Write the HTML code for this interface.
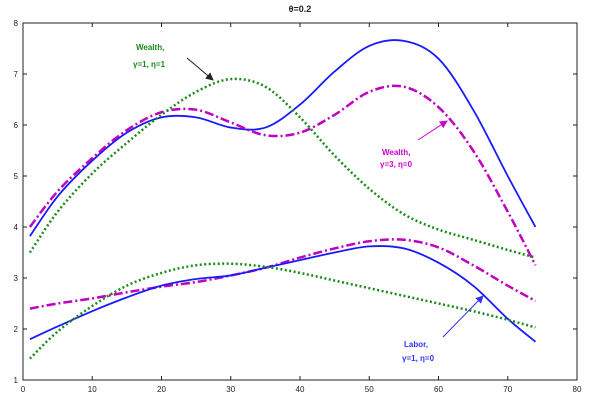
<!DOCTYPE html>
<html><head><meta charset="utf-8"><style>
body{margin:0;background:#fff}
svg{display:block;font-family:"Liberation Sans",sans-serif}
</style></head><body>
<svg id="c" width="600" height="405">
<defs>
<marker id="ab" markerWidth="8" markerHeight="8" refX="7" refY="4" orient="auto"><path d="M0,0L8,4L0,8z" fill="#222"/></marker>
<marker id="am" markerWidth="8" markerHeight="8" refX="7" refY="4" orient="auto"><path d="M0,0L8,4L0,8z" fill="#c0c"/></marker>
<marker id="al" markerWidth="8" markerHeight="8" refX="7" refY="4" orient="auto"><path d="M0,0L8,4L0,8z" fill="#33f"/></marker>
</defs>
<text x="300" y="12" font-size="9" font-weight="bold" text-anchor="middle" fill="#222">θ=0.2</text>
<g id="axes"></g><g id="series"></g>
<g>
<text x="136" y="50" font-size="8" font-weight="bold" fill="#1a8a1a">Wealth,</text>
<text x="133" y="67" font-size="8" font-weight="bold" fill="#1a8a1a">γ=1, η=1</text>
<line x1="187" y1="58" x2="213" y2="80" stroke="#222" stroke-width="1" marker-end="url(#ab)"/>
<text x="382" y="155" font-size="8" font-weight="bold" fill="#c0c">Wealth,</text>
<text x="380" y="167" font-size="8" font-weight="bold" fill="#c0c">γ=3, η=0</text>
<line x1="418" y1="140" x2="447" y2="121" stroke="#c0c" stroke-width="1" marker-end="url(#am)"/>
<text x="404" y="347" font-size="8" font-weight="bold" fill="#33f">Labor,</text>
<text x="402" y="361" font-size="8" font-weight="bold" fill="#33f">γ=1, η=0</text>
<line x1="443" y1="337" x2="483" y2="296" stroke="#33f" stroke-width="1" marker-end="url(#al)"/>
</g>
</svg>
<script>
const xs=[1,5,10,15,20,25,30,35,40,45,50,55,60,65,70,74];
const blueWealth=[3.82,4.6,5.3,5.85,6.15,6.15,5.95,5.95,6.4,7.05,7.55,7.65,7.3,6.3,5.0,4.0];
const magWealth=[4.0,4.7,5.35,5.9,6.25,6.3,6.05,5.8,5.85,6.2,6.65,6.75,6.35,5.5,4.3,3.25];
const greenWealth=[3.5,4.3,5.05,5.65,6.2,6.65,6.9,6.75,6.15,5.4,4.75,4.25,3.95,3.75,3.55,3.4];
const magLabor=[2.4,2.5,2.6,2.72,2.83,2.92,3.05,3.2,3.4,3.58,3.72,3.75,3.6,3.25,2.85,2.55];
const blueLabor=[1.8,2.05,2.35,2.62,2.85,2.98,3.05,3.2,3.35,3.5,3.62,3.58,3.3,2.85,2.2,1.75];
const greenLabor=[1.42,1.95,2.45,2.85,3.1,3.25,3.28,3.22,3.1,2.95,2.8,2.65,2.5,2.35,2.18,2.03];
const xTicks=[0,10,20,30,40,50,60,70,80];
const yTicks=[1,2,3,4,5,6,7,8];
const L=23,R=577,T=23,B=380;
const sx=v=>L+(v-0)/80*(R-L), sy=v=>B-(v-1)/7*(B-T);
const NS="http://www.w3.org/2000/svg";
const ax=document.getElementById('axes'), sg=document.getElementById('series');
function mk(tag,at,par){const e=document.createElementNS(NS,tag);for(const k in at)e.setAttribute(k,at[k]);par.appendChild(e);return e;}
const fr=mk('rect',{x:L,y:T,width:R-L,height:B-T,fill:'none',stroke:'#222','stroke-width':1},ax);


xTicks.forEach(t=>{const x=sx(t);
 const l=mk('path',{d:`M${x},${B}v-4M${x},${T}v4`,stroke:'#222'},ax);
 
 
 const tx=mk('text',{x:x,y:B+12,'font-size':8,'text-anchor':'middle',fill:'#222'},ax);tx.textContent=t;
 
 });
yTicks.forEach(t=>{const y=sy(t);
 const l=mk('path',{d:`M${L},${y}h4M${R},${y}h-4`,stroke:'#222'},ax);
 
 
 const tx=mk('text',{x:L-5,y:y+3,'font-size':8,'text-anchor':'end',fill:'#222'},ax);tx.textContent=t;
 
 });
function path(vals){const p=xs.map((x,i)=>[sx(x),sy(vals[i])]);let d=`M${p[0][0]},${p[0][1]}`;
 for(let i=0;i<p.length-1;i++){const p0=p[Math.max(0,i-1)],p1=p[i],p2=p[i+1],p3=p[Math.min(p.length-1,i+2)];
 d+=`C${p1[0]+(p2[0]-p0[0])/6},${p1[1]+(p2[1]-p0[1])/6} ${p2[0]-(p3[0]-p1[0])/6},${p2[1]-(p3[1]-p1[1])/6} ${p2[0]},${p2[1]}`;}return d;}
const defs=[[blueWealth,'#1a1aff','', 'wealth-g1-eta0-line'],[magWealth,'#c000c0','9,3,2,3','wealth-g3-line'],[greenWealth,'#1a8a1a','2,2.5','wealth-g1-eta1-line'],
[magLabor,'#c000c0','9,3,2,3','labor-g3-line'],[blueLabor,'#1a1aff','','labor-g1-eta0-line'],[greenLabor,'#1a8a1a','2,2.5','labor-g1-eta1-line']];
defs.forEach(([v,c,da,n])=>{const e=mk('path',{d:path(v),fill:'none',stroke:c,'stroke-width':da?2.5:1.8,'stroke-dasharray':da||'none'},sg);
 
 });
</script>
</body></html>
